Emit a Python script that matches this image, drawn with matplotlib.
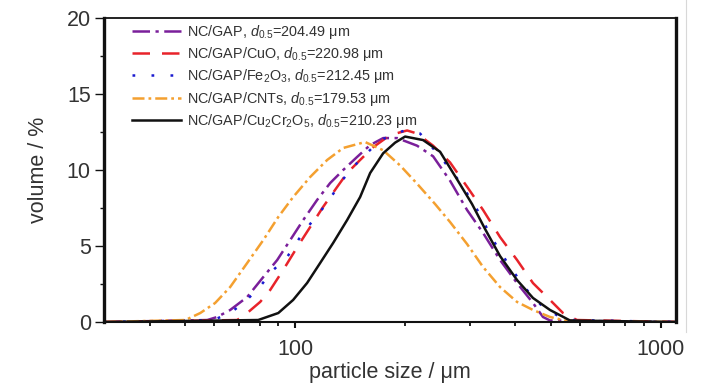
import matplotlib
matplotlib.use("Agg")
import matplotlib.pyplot as plt
from matplotlib.ticker import FixedLocator, NullFormatter, FixedFormatter
from matplotlib.lines import Line2D

FONT = ['Liberation Sans', 'DejaVu Sans']
plt.rcParams['font.family'] = FONT
plt.rcParams['mathtext.fontset'] = 'custom'
plt.rcParams['mathtext.rm'] = 'Liberation Sans'
plt.rcParams['mathtext.it'] = 'Liberation Sans:italic'

# ---- data ----
x_gap = [30, 57.5, 61.2, 66.4, 73.9, 81.8, 89.3, 96.9, 105.2, 114.8, 124.6, 135.3, 147.7,
         160.3, 174.0, 190.0, 215.4, 238.3, 265.1, 295.1, 326.4, 363.2, 404.3, 447.0,
         476.0, 497.6, 1100]
y_gap = [0, 0.13, 0.33, 0.79, 1.64, 2.96, 4.08, 5.39, 6.71, 8.03, 9.14, 10.0, 10.86,
         11.64, 12.1, 12.1, 11.6, 10.9, 9.3, 7.37, 5.86, 4.08, 2.56, 1.25, 0.33, 0.1, 0]

x_cuo = [30, 69.4, 73.9, 80.2, 85.4, 92.7, 101.3, 109.9, 119.2, 130.2, 138.7, 150.5, 163.4,
         181.8, 202.3, 215.4, 238.3, 265.1, 295.1, 326.4, 363.2, 404.3, 447.0, 497.6,
         540.0, 589.6, 1100]
y_cuo = [0, 0.13, 0.59, 1.32, 2.1, 3.42, 4.93, 6.25, 7.57, 8.88, 9.8, 10.66, 11.5,
         12.3, 12.6, 12.4, 11.6, 10.5, 8.9, 7.37, 5.59, 4.08, 2.56, 1.45, 0.59, 0.13, 0]

x_fe = [30, 59.7, 66.4, 72.1, 78.7, 87.1, 95.1, 103.2, 112.0, 122.3, 132.8, 141.3, 153.4,
        167.5, 181.8, 199.8, 219.5, 249.0, 282.4, 314.3, 347.5, 386.8, 430.4, 476.0,
        530.0, 575.1, 1100]
y_fe = [0, 0.13, 0.59, 1.25, 2.1, 3.42, 4.28, 5.59, 6.71, 7.83, 9.14, 10.0, 10.86,
        11.78, 12.3, 12.6, 12.4, 10.9, 9.2, 7.4, 5.4, 3.62, 2.1, 0.99, 0.33, 0.13, 0]

x_cnt = [30, 50.1, 55.0, 60.4, 66.4, 73.9, 81.8, 89.9, 98.7, 109.9, 122.3, 135.3, 155.3,
         174.0, 193.6, 215.4, 241.3, 265.1, 295.1, 326.4, 363.2, 404.3, 447.0, 497.6,
         553.8, 1100]
y_cnt = [0, 0.13, 0.59, 1.25, 2.3, 3.88, 5.39, 6.91, 8.22, 9.54, 10.66, 11.45, 11.84,
         11.3, 10.3, 9.1, 7.76, 6.58, 5.13, 3.62, 2.3, 1.32, 0.79, 0.33, 0.07, 0]

x_ccr = [30, 79.2, 89.9, 98.7, 107.8, 117.0, 127.0, 138.7, 150.5, 160.3, 174.0, 187.6,
         199.8, 223.7, 249.0, 278.8, 304.5, 330.5, 363.2, 404.3, 447.0, 497.6, 564.3, 1100]
y_ccr = [0, 0.13, 0.59, 1.45, 2.57, 3.88, 5.2, 6.71, 8.22, 9.8, 11.1, 11.8,
         12.2, 11.97, 11.2, 9.28, 7.76, 6.12, 4.34, 2.76, 1.58, 0.79, 0.1, 0]

labels = [
    r"NC/GAP, $d_{0.5}$=204.49 μm",
    r"NC/GAP/CuO, $d_{0.5}$=220.98 μm",
    r"NC/GAP/Fe$_2$O$_3$, $d_{0.5}$=212.45 μm",
    r"NC/GAP/CNTs, $d_{0.5}$=179.53 μm",
    r"NC/GAP/Cu$_2$Cr$_2$O$_5$, $d_{0.5}$=210.23 μm",
]
xticks_major = [100, 1000]
xticks_minor = [40, 50, 60, 70, 80, 90, 200, 300, 400, 500, 600, 700, 800, 900]
yticks_major = [0, 5, 10, 15, 20]
yticks_minor = [2.5, 7.5, 12.5, 17.5]

# ---- figure ----
fig = plt.figure(figsize=(7.28, 3.9), dpi=100)
ax = fig.add_axes([104/728, 1-322/390, 572/728, 304/390])

series = [
    (x_gap, y_gap, '#7a1f9a', (0, (7, 2.2, 1.3, 2.2))),
    (x_cuo, y_cuo, '#e8232a', (0, (7, 4.8))),
    (x_fe, y_fe, '#1a1ad0', (0, (1.1, 6.5))),
    (x_cnt, y_cnt, '#f4a030', (0, (4.8, 1.6, 1.1, 1.6))),
    (x_ccr, y_ccr, '#111111', '-'),
]
for (xs, ys, c, ls), lab in zip(series, labels):
    ax.plot(xs, ys, color=c, linestyle=ls, lw=1.8, label=lab)

ax.set_xscale('log')
ax.set_xlim(30, 1100)
ax.set_ylim(0, 20)

ax.xaxis.set_major_locator(FixedLocator(xticks_major))
ax.xaxis.set_major_formatter(FixedFormatter([str(v) for v in xticks_major]))
ax.xaxis.set_minor_locator(FixedLocator(xticks_minor))
ax.xaxis.set_minor_formatter(NullFormatter())
ax.yaxis.set_major_locator(FixedLocator(yticks_major))
ax.yaxis.set_minor_locator(FixedLocator(yticks_minor))

ax.tick_params(axis='x', which='major', direction='out', length=4, width=1.5,
               labelsize=15.5, pad=8, colors='#111111', labelcolor='#333333')
ax.tick_params(axis='x', which='minor', direction='out', length=3, width=1.3, colors='#111111')
ax.tick_params(axis='y', which='major', direction='out', length=6.5, width=1.0,
               labelsize=15.5, pad=3, colors='#111111', labelcolor='#333333')
ax.tick_params(axis='y', which='minor', direction='out', length=3, width=1.0, colors='#111111')

for side, w in [('left', 2.4), ('right', 2.4), ('top', 1.3), ('bottom', 1.5)]:
    ax.spines[side].set_linewidth(w)
    ax.spines[side].set_color('#111111')

ax.set_xlabel('particle size / μm', fontsize=15.5, color='#333333', labelpad=2)
ax.set_ylabel('volume / %', fontsize=15.5, color='#333333', labelpad=13)

leg = ax.legend(loc='upper left', bbox_to_anchor=(0.049, 0.985), frameon=False,
                fontsize=10.4, handlelength=3.4, handletextpad=0.4, labelspacing=0.3,
                borderpad=0, borderaxespad=0)
for t in leg.get_texts():
    t.set_color('#333333')

fig.add_artist(Line2D([686/728, 686/728], [1-332/390, 1.0], transform=fig.transFigure,
                      color='#d8d8d8', lw=0.8))

fig.savefig('out.png', dpi=100)
